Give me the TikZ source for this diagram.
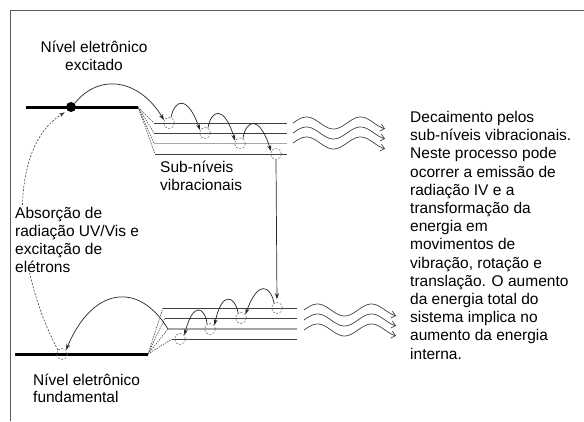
\documentclass[tikz,border=0pt]{standalone}
\usepackage{fontspec}
\setmainfont{Liberation Sans}
\usetikzlibrary{arrows.meta}
\begin{document}
\begin{tikzpicture}[x=1pt,y=-1pt,
  lbl/.style={inner sep=0pt, anchor=base west, font=\fontsize{15.5pt}{18.2pt}\selectfont},
  level/.style={line width=3pt, draw=black},
  sub/.style={line width=0.8pt, draw=black!75},
  subg/.style={line width=1.3pt, draw=black!35},
  fan/.style={draw=black!70, line width=0.6pt, dash pattern=on 1.5pt off 1pt},
  elec/.style={circle, draw=black!55, dash pattern=on 2pt off 1.5pt, minimum size=11pt, inner sep=0pt, line width=0.6pt},
  hop/.style={draw=black!85, line width=0.7pt, -{Stealth[length=6pt,width=4pt]}},
  absarrow/.style={draw=black!75, line width=0.6pt, dash pattern=on 2pt off 1.5pt, -{Stealth[length=6pt,width=4pt]}},
  wave/.style={draw=black!75, line width=0.7pt, -{Straight Barb[length=4pt,width=7pt]}},
]
\useasboundingbox (0,0) rectangle (584,421);
% frame
\draw[draw=black!65, line width=1pt] (10,421) -- (10,10) -- (584,10);

% upper electronic level
\coordinate (uL) at (26,107);
\coordinate (uR) at (138,107);
\draw[level] (uL) -- (uR);
\node[circle, fill=black, minimum size=10pt, inner sep=0pt] (dot) at (71,107) {};

% upper vibrational sublevels
\coordinate (us1) at (154,123);   \coordinate (ue1) at (287,123);
\coordinate (us2) at (154,133);   \coordinate (ue2) at (287,133);
\coordinate (us3) at (154,143.5); \coordinate (ue3) at (287,143.5);
\coordinate (us4) at (155,154);   \coordinate (ue4) at (287,154);
\draw[sub] (us1) -- (ue1);
\draw[sub] (us2) -- (ue2);
\draw[subg] (us3) -- (ue3);
\draw[sub] (us4) -- (ue4);
\draw[fan] (uR) -- (us1);
\draw[fan] (uR) -- (us2);
\draw[fan] (uR) -- (us3);
\draw[fan] (uR) -- (us4);

\node[elec] (c1) at (169,123) {};
\node[elec] (c2) at (205,133) {};
\node[elec] (c3) at (240,143.5) {};
\node[elec] (c4) at (276,154) {};

\draw[hop] (dot.45) .. controls (100,72) and (140,80) .. (c1.150);
\draw[hop] (c1.70) .. controls (175,98) and (188,96) .. (c2.150);
\draw[hop] (c2.60) .. controls (211,110) and (224,104) .. (c3.150);
\draw[hop] (c3.60) .. controls (246,120) and (259,114) .. (c4.150);

% lower electronic level
\coordinate (gL) at (15,354);
\coordinate (gR) at (148,354);
\draw[level] (gL) -- (gR);

\coordinate (ls1) at (163,308); \coordinate (le1) at (297,308);
\coordinate (ls2) at (165,318); \coordinate (le2) at (297,318);
\coordinate (ls3) at (168,329); \coordinate (le3) at (297,329);
\coordinate (ls4) at (172,339); \coordinate (le4) at (297,339);
\draw[sub] (ls1) -- (le1);
\draw[sub] (ls2) -- (le2);
\draw[subg] (ls3) -- (le3);
\draw[sub] (ls4) -- (le4);
\draw[fan] (gR) -- (ls1);
\draw[fan] (gR) -- (ls2);
\draw[fan] (gR) -- (ls3);
\draw[fan] (gR) -- (ls4);

\node[elec] (d1) at (277,308) {};
\node[elec] (d2) at (241,318) {};
\node[elec] (d3) at (210,329) {};
\node[elec] (d4) at (180,339) {};
\node[elec] (g) at (62,354) {};

\draw[hop, shorten >=3pt] (c4.south) -- (d1.north);
\draw[hop] (d1.120) .. controls (270,285) and (258,280) .. (d2.40);
\draw[hop] (d2.120) .. controls (235,296) and (222,290) .. (d3.40);
\draw[hop] (d3.120) .. controls (205,307) and (193,301) .. (d4.40);
\draw[hop] (ls3) .. controls (138,280) and (92,288) .. (g.45);

% absorption
\draw[absarrow, shorten >=3pt] (g.135) .. controls (15,270) and (5,150) .. (dot.225);

% waves
\coordinate (w1) at (293,123);
\coordinate (w2) at (293,133);
\coordinate (w3) at (293,143);
\coordinate (w4) at (304,310);
\coordinate (w5) at (304,320);
\coordinate (w6) at (304,330);
\foreach \w in {w1,w2,w3,w4,w5,w6}{
  \draw[wave, shift={(\w)}] plot[smooth, domain=0:92, samples=50] (\x, {-6*sin(6.667*\x)});
}

% texts
\node[lbl, anchor=base] (exc) at (94,52) {\parbox[t]{130pt}{\centering Nível eletrônico\\excitado}};
\node[lbl] (subn) at (160,172) {\parbox[t]{100pt}{Sub-níveis\\vibracionais}};
\node[lbl, fill=white] (abs) at (15,218) {\parbox[t]{148pt}{Absorção de\\radiação UV/Vis e\\excitação de\\elétrons}};
\node[lbl, font=\fontsize{15.5pt}{17pt}\selectfont] (fund) at (33,385) {\parbox[t]{130pt}{Nível eletrônico\\fundamental}};
\node[lbl] (desc) at (410,122.5) {\parbox[t]{172pt}{Decaimento pelos\\sub-níveis vibracionais.\\Neste processo pode\\ocorrer a emissão de\\radiação IV e a\\transformação da\\energia em\\movimentos de\\vibração, rotação e\\translação. O aumento\\da energia total do\\sistema implica no\\aumento da energia\\interna.}};
\end{tikzpicture}
\end{document}
